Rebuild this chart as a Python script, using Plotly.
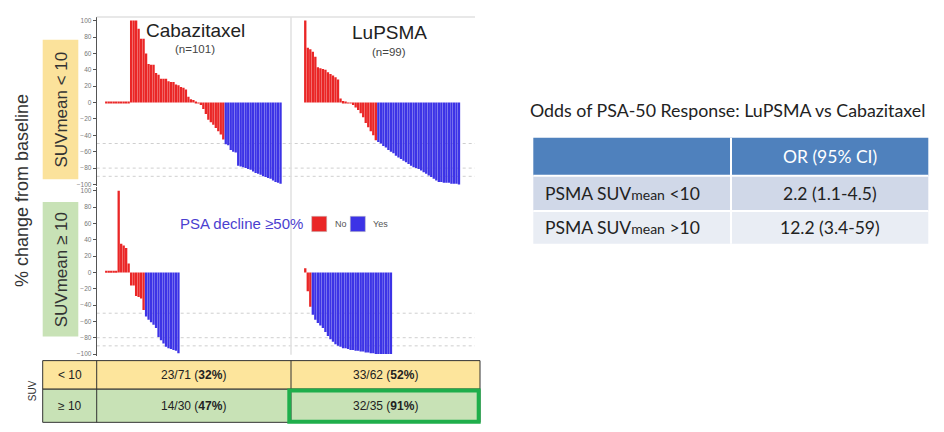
import plotly.graph_objects as go

# ---------------- data ----------------
# % change from baseline, sorted as in the waterfall; "no" = PSA decline <50%, "yes" = >=50%
cab_low_no = [1, 1, 1, 1, 1, 1, 1, 1, 1, 1,
              100, 100, 100, 90, 78, 78, 60, 47, 46, 46, 36, 34, 29, 29, 29, 26, 25, 25,
              22, 21, 19, 18, 16, 7, 4, 3, 1,
              -1, -3, -8, -14, -21, -24, -27, -31, -35, -39, -45]
cab_low_yes = [-51, -52, -58, -60, -61, -77, -78, -79, -80, -81, -82, -84, -86, -87, -88,
               -90, -91, -92, -93, -95, -97, -98, -99]
lu_low_no = [100, 67, 65, 62, 56, 43, 42, 41, 40, 37, 35, 33, 31, 28, 5, 2, 1, -1, -1,
             -3, -6, -9, -13, -18, -25, -30, -35, -40, -46]
lu_low_yes = [-48, -50, -53, -55, -58, -60, -62, -65, -67, -69, -71, -73, -75, -77, -79,
              -80, -81, -83, -85, -87, -89, -91, -93, -95, -97, -97, -98, -98, -98, -99,
              -99, -99, -100]
cab_high_no = [1, 1, 1, 1, 1, 100, 35, 33, 30, 11, -16, -16, -29, -30, -32, -46]
cab_high_yes = [-54, -58, -61, -64, -68, -79, -83, -87, -91, -93, -94, -95, -96, -99]
lu_high_no = [5, -23, -42]
lu_high_yes = [-52, -58, -62, -65, -68, -73, -78, -82, -85, -88, -90, -91, -93, -93, -94,
               -95, -95, -96, -96, -97, -97, -98, -98, -99, -99, -100, -100, -100, -100,
               -100, -100, -100]

arm_titles = ["Cabazitaxel", "LuPSMA"]
arm_n = ["(n=101)", "(n=99)"]
strata = ["SUVmean < 10", "SUVmean ≥ 10"]
ref_lines = [-50, -80, -90]
y_ticks = [100, 80, 60, 40, 20, 0, -20, -40, -60, -80, -100]

suv_rows = ["< 10", "≥ 10"]
cab_resp = ["23/71", "14/30"]
cab_pct = ["32%", "47%"]
lu_resp = ["33/62", "32/35"]
lu_pct = ["52%", "91%"]

or_title = "Odds of PSA-50 Response: LuPSMA vs Cabazitaxel"
or_header = ["", "OR (95% CI)"]
or_rows = ["PSMA SUV<span style='font-size:14px'>mean</span> &lt;10",
           "PSMA SUV<span style='font-size:14px'>mean</span> &gt;10"]
or_vals = ["2.2 (1.1-4.5)", "12.2 (3.4-59)"]

# ---------------- styling ----------------
W, H = 944, 432
RED = "#ea2626"
BLUE = "#3c33e6"
FONT = "Liberation Sans, Arial, sans-serif"
FONT2 = "Lato, Open Sans, sans-serif"


def px(x):
    return x / W


def py(y):
    return 1 - y / H


def ann(text, x, y, size, color="#222", family=FONT, xanchor="center", angle=0):
    return dict(text=text, x=px(x), y=py(y), xref="paper", yref="paper", showarrow=False,
                xanchor=xanchor, yanchor="middle", textangle=angle,
                font=dict(size=size, color=color, family=family))


fig = go.Figure()

panels = [
    (cab_low_no, cab_low_yes, "x", "y"),
    (lu_low_no, lu_low_yes, "x2", "y2"),
    (cab_high_no, cab_high_yes, "x3", "y3"),
    (lu_high_no, lu_high_yes, "x4", "y4"),
]
for no_vals, yes_vals, xa, ya in panels:
    n_no = len(no_vals)
    fig.add_trace(go.Bar(x=list(range(n_no)), y=no_vals, marker_color=RED,
                         marker_line_width=0, width=0.93, xaxis=xa, yaxis=ya,
                         showlegend=False, hoverinfo="skip"))
    fig.add_trace(go.Bar(x=list(range(n_no, n_no + len(yes_vals))), y=yes_vals,
                         marker_color=BLUE, marker_line_width=0, width=0.93,
                         xaxis=xa, yaxis=ya, showlegend=False, hoverinfo="skip"))

# axes geometry (pixels)
left_l, left_r = 96.7, 291.0
right_l, right_r = 291.0, 475.0
top_t, top_b = 16.6, 187.0
bot_t, bot_b = 187.6, 357.3
yr = [-102, 105]
bw_left = 2.49
bw_right = 2.52
x_left_start = -(105 + bw_left / 2 - left_l) / bw_left
x_left_range = [x_left_start, x_left_start + (left_r - left_l) / bw_left]
x_right_start = -(304 + bw_right / 2 - right_l) / bw_right
x_right_range = [x_right_start, x_right_start + (right_r - right_l) / bw_right]

xcommon = dict(visible=False, showgrid=False, zeroline=False)
yleft = dict(range=yr, showgrid=False, zeroline=False, showline=True, linecolor="#555",
             linewidth=1, ticks="outside", ticklen=3, tickcolor="#555",
             tickvals=y_ticks, tickfont=dict(size=6.5, color="#777", family=FONT))
yright = dict(range=yr, visible=False, showgrid=False, zeroline=False)

fig.update_layout(
    xaxis=dict(domain=[px(left_l), px(left_r)], range=x_left_range, anchor="y", **xcommon),
    xaxis2=dict(domain=[px(right_l), px(right_r)], range=x_right_range, anchor="y2", **xcommon),
    xaxis3=dict(domain=[px(left_l), px(left_r)], range=x_left_range, anchor="y3", **xcommon),
    xaxis4=dict(domain=[px(right_l), px(right_r)], range=x_right_range, anchor="y4", **xcommon),
    yaxis=dict(domain=[py(top_b), py(top_t)], anchor="x", **yleft),
    yaxis2=dict(domain=[py(top_b), py(top_t)], anchor="x2", **yright),
    yaxis3=dict(domain=[py(bot_b), py(bot_t)], anchor="x3", **yleft),
    yaxis4=dict(domain=[py(bot_b), py(bot_t)], anchor="x4", **yright),
    width=W, height=H, margin=dict(l=0, r=0, t=0, b=0),
    paper_bgcolor="white", plot_bgcolor="rgba(0,0,0,0)",
    barmode="overlay", showlegend=False,
)

shapes = []
annotations = []

# reference dashed lines
for yref in ["y", "y3"]:
    for v in ref_lines:
        shapes.append(dict(type="line", xref="paper", yref=yref, x0=px(left_l), x1=px(right_r),
                           y0=v, y1=v, line=dict(color="#cfcfcf", width=1, dash="3px,3px"),
                           layer="below"))
# panel borders
shapes.append(dict(type="line", xref="paper", yref="paper", x0=px(left_l), x1=px(right_r),
                   y0=py(17.2), y1=py(17.2), line=dict(color="#e0e0e0", width=1.5)))
shapes.append(dict(type="line", xref="paper", yref="paper", x0=px(291), x1=px(291),
                   y0=py(17.2), y1=py(356.5), line=dict(color="#e0e0e0", width=1.5)))

# strip boxes
strip_cols = ["#fbe29b", "#c8e2b6"]
strip_pos = [(40, 180), (203, 338)]
for lab, col, (t, b) in zip(strata, strip_cols, strip_pos):
    shapes.append(dict(type="rect", xref="paper", yref="paper", x0=px(42.7), x1=px(78.3),
                       y0=py(b), y1=py(t), fillcolor=col, line=dict(width=0), layer="below"))
    annotations.append(ann(lab, 61, (t + b) / 2, 17, "#333", angle=-90))

annotations.append(ann("% change from baseline", 22, 192, 18, "#333", angle=-90))

# arm titles
for t, n, cx, ty, ny in zip(arm_titles, arm_n, [195, 389], [30.7, 32.3], [49.3, 52.7]):
    annotations.append(ann(t, cx, ty, 19, "#222"))
    annotations.append(ann(n, cx, ny, 11.5, "#444"))

# legend
annotations.append(ann("PSA decline ≥50%", 305, 225, 15, "#4b3fd0", xanchor="right"))
for col, lab, x0 in [(RED, "No", 311.7), (BLUE, "Yes", 350.3)]:
    shapes.append(dict(type="rect", xref="paper", yref="paper", x0=px(x0), x1=px(x0 + 15),
                       y0=py(232.7), y1=py(217.3), fillcolor=col, line=dict(color="#bbb", width=0.5)))
    annotations.append(ann(lab, x0 + 21, 225, 9, "#555", xanchor="left"))

# bottom table
row_bounds = [(362.3, 391.0), (391.0, 424.3)]
row_cols = ["#fde59c", "#c8e2b6"]
col_bounds = [(42.7, 96.7), (96.7, 291.0), (291.0, 480.0)]
for i, ((t, b), col) in enumerate(zip(row_bounds, row_cols)):
    shapes.append(dict(type="rect", xref="paper", yref="paper", x0=px(42.7), x1=px(480),
                       y0=py(b), y1=py(t), fillcolor=col, line=dict(color="#333", width=1)))
    texts = [suv_rows[i], f"{cab_resp[i]} (<b>{cab_pct[i]}</b>)", f"{lu_resp[i]} (<b>{lu_pct[i]}</b>)"]
    for (l, r), txt in zip(col_bounds, texts):
        annotations.append(ann(txt, (l + r) / 2, (t + b) / 2 + 0.5, 12, "#222"))
for xv in [96.7, 291.0]:
    shapes.append(dict(type="line", xref="paper", yref="paper", x0=px(xv), x1=px(xv),
                       y0=py(362.3), y1=py(424.3), line=dict(color="#333", width=1)))
shapes.append(dict(type="rect", xref="paper", yref="paper", x0=px(289.3), x1=px(478.7),
                   y0=py(423.7), y1=py(392.2), line=dict(color="#1fae4b", width=4)))
annotations.append(ann("SUV", 32, 393, 10, "#333", angle=-90))

# right OR table
annotations.append(ann(or_title, 528, 111, 17.8, "#222", family=FONT2, xanchor="left"))
tx0, tsplit, tx1 = 533.3, 731.0, 928.3
shapes.append(dict(type="rect", xref="paper", yref="paper", x0=px(tx0), x1=px(tx1),
                   y0=py(176.5), y1=py(138.3), fillcolor="#4f81bd", line=dict(width=0)))
annotations.append(ann(or_header[1], (tsplit + tx1) / 2, 157, 17.5, "white", family=FONT2))
or_row_bounds = [(176.5, 212.0), (212.0, 245.0)]
or_row_cols = ["#d0d8e8", "#e9edf4"]
for (t, b), col, lab, val in zip(or_row_bounds, or_row_cols, or_rows, or_vals):
    shapes.append(dict(type="rect", xref="paper", yref="paper", x0=px(tx0), x1=px(tx1),
                       y0=py(b), y1=py(t), fillcolor=col, line=dict(width=0)))
    annotations.append(ann(lab, 543, (t + b) / 2, 17.5, "#222", family=FONT2, xanchor="left"))
    annotations.append(ann(val, (tsplit + tx1) / 2, (t + b) / 2, 17.5, "#222", family=FONT2))
for yv in [176.5, 212.0]:
    shapes.append(dict(type="line", xref="paper", yref="paper", x0=px(tx0), x1=px(tx1),
                       y0=py(yv), y1=py(yv), line=dict(color="white", width=2)))
shapes.append(dict(type="line", xref="paper", yref="paper", x0=px(tsplit), x1=px(tsplit),
                   y0=py(138.3), y1=py(245), line=dict(color="white", width=2)))

fig.update_layout(shapes=shapes, annotations=annotations)
fig.write_html("out.html")
